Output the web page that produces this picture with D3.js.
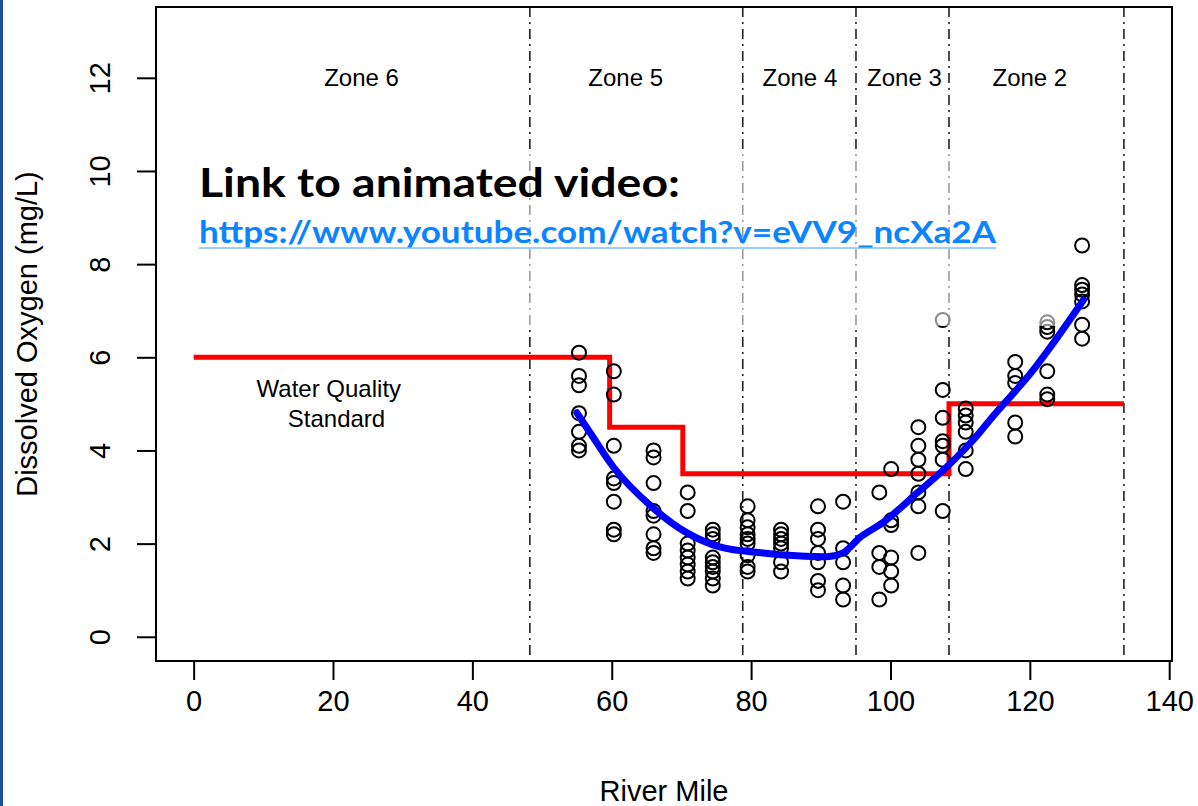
<!DOCTYPE html>
<html>
<head>
<meta charset="utf-8">
<script src="https://cdn.jsdelivr.net/npm/d3@7/dist/d3.min.js"></script>
<style>
  html, body { margin: 0; padding: 0; background: #ffffff; }
  svg { display: block; }
</style>
</head>
<body>
<svg id="chart" width="1198" height="806" font-family="'Liberation Sans', Arial, sans-serif"></svg>
<script>
// Sampling stations (river mile) and dissolved oxygen readings at each one
const stationMiles = [55.3, 60.3, 66.0, 70.9, 74.5, 79.5, 84.3, 89.6, 93.2, 98.4, 100.1, 104.0, 107.5, 110.8, 117.9, 122.5, 127.5];
const stationDO = [
  [6.1, 5.6, 5.4, 4.8, 4.4, 4.1, 4.0],
  [5.7, 5.2, 4.1, 3.4, 3.3, 2.9, 2.3, 2.2],
  [4.0, 3.85, 3.3, 2.7, 2.6, 2.2, 1.9, 1.8],
  [3.1, 2.7, 2.0, 1.85, 1.7, 1.55, 1.4, 1.25],
  [2.3, 2.2, 2.1, 1.7, 1.6, 1.5, 1.4, 1.25, 1.1],
  [2.8, 2.5, 2.35, 2.2, 2.1, 2.0, 1.75, 1.5, 1.4],
  [2.3, 2.2, 2.1, 2.0, 1.9, 1.6, 1.4],
  [2.8, 2.3, 2.1, 1.8, 1.6, 1.2, 1.0],
  [2.9, 1.9, 1.6, 1.1, 0.8],
  [3.1, 1.8, 1.5, 0.8],
  [3.6, 2.5, 2.4, 1.7, 1.4, 1.1],
  [4.5, 4.1, 3.8, 3.5, 3.1, 2.8, 1.8],
  [6.8, 5.3, 4.7, 4.2, 4.1, 3.8, 2.7],
  [4.9, 4.75, 4.6, 4.4, 4.0, 3.6],
  [5.9, 5.6, 5.45, 4.6, 4.3],
  [6.75, 6.65, 6.55, 5.7, 5.2, 5.1],
  [8.4, 7.55, 7.45, 7.35, 7.2, 6.7, 6.4]
];

// Smoothed trend of dissolved oxygen along the river
const fitMiles = [55.0, 56.9, 60.2, 65.9, 70.8, 75.5, 81.7, 86.6, 90.9, 93.2, 95.6, 98.9, 104.0, 108.1, 111.9, 114.3, 120.5, 127.7];
const fitDO    = [4.81, 4.38, 3.65, 2.77, 2.23, 1.93, 1.80, 1.74, 1.72, 1.80, 2.13, 2.45, 3.11, 3.65, 4.23, 4.66, 5.73, 7.23];

// Water quality standard: level applies from each break to the next
const standardBreaks = [0, 59.7, 70.2, 108.4, 133.5];
const standardLevels = [6, 4.5, 3.5, 5, 5];

// Management zones
const zoneBoundaries = [48.25, 78.8, 95.05, 108.4, 133.5];
const zoneNames   = ["Zone 6", "Zone 5", "Zone 4", "Zone 3", "Zone 2"];
const zoneCenters = [24.1, 62, 87, 102, 120];

// Axis ticks
const xTicks = [0, 20, 40, 60, 80, 100, 120, 140];
const yTicks = [0, 2, 4, 6, 8, 10, 12];

const svg = d3.select("#chart");
const box = { left: 156, top: 7, right: 1172, bottom: 661 };

const x = d3.scaleLinear().domain([-5.4, 140.4]).range([box.left, box.right]);
const y = d3.scaleLinear().domain([-0.52, 13.52]).range([box.bottom, box.top]);

// page frame accent on the left edge
svg.append("rect").attr("x", 0).attr("y", 0).attr("width", 3).attr("height", 806).attr("fill", "#1f4f9a");

// zone divider lines (dot-dash)
svg.append("g").selectAll("line").data(zoneBoundaries).join("line")
  .attr("x1", d => x(d)).attr("x2", d => x(d))
  .attr("y1", box.top).attr("y2", box.bottom)
  .attr("stroke", "#222").attr("stroke-width", 1.6)
  .attr("stroke-dasharray", "10,5,2,5");

// zone labels
svg.append("g").selectAll("text").data(zoneNames).join("text")
  .attr("x", (d, i) => x(zoneCenters[i]))
  .attr("y", y(12))
  .attr("dy", "0.35em")
  .attr("text-anchor", "middle")
  .attr("font-size", 24)
  .attr("fill", "#000")
  .text(d => d);

// water quality standard step line
const stdLine = d3.line()
  .x((d, i) => x(standardBreaks[i]))
  .y(d => y(d))
  .curve(d3.curveStepAfter);
svg.append("path")
  .datum(standardLevels)
  .attr("d", stdLine)
  .attr("fill", "none")
  .attr("stroke", "#ff0000")
  .attr("stroke-width", 5);

svg.append("text")
  .attr("x", x(19.4)).attr("y", y(5.32)).attr("dy", "0.35em")
  .attr("text-anchor", "middle").attr("font-size", 24)
  .text("Water Quality");
svg.append("text")
  .attr("x", x(20.5)).attr("y", y(4.68)).attr("dy", "0.35em")
  .attr("text-anchor", "middle").attr("font-size", 24)
  .text("Standard");

// observed samples
const samples = stationMiles.flatMap((m, i) => stationDO[i].map(v => ({ mile: m, value: v })));
svg.append("g").selectAll("circle").data(samples).join("circle")
  .attr("cx", d => x(d.mile))
  .attr("cy", d => y(d.value))
  .attr("r", 7)
  .attr("fill", "none")
  .attr("stroke", "#000")
  .attr("stroke-width", 2);

// trend line
const fitLine = d3.line()
  .x((d, i) => x(fitMiles[i]))
  .y(d => y(d))
  .curve(d3.curveMonotoneX);
svg.append("path")
  .datum(fitDO)
  .attr("d", fitLine)
  .attr("fill", "none")
  .attr("stroke", "#0000ff")
  .attr("stroke-width", 7)
  .attr("stroke-linecap", "round");

// axes
const xAxis = d3.axisBottom(x).tickValues(xTicks).tickSize(19).tickSizeOuter(0).tickPadding(10);
const gx = svg.append("g").attr("transform", `translate(0,${box.bottom})`).call(xAxis);
gx.attr("font-family", null).attr("font-size", null);
gx.select(".domain").remove();
gx.selectAll(".tick line").attr("stroke", "#000").attr("stroke-width", 2);
gx.selectAll(".tick text").attr("font-size", 29).attr("fill", "#000");

const yAxis = d3.axisLeft(y).tickValues(yTicks).tickSize(19).tickSizeOuter(0);
const gy = svg.append("g").attr("transform", `translate(${box.left},0)`).call(yAxis);
gy.attr("font-family", null).attr("font-size", null);
gy.select(".domain").remove();
gy.selectAll(".tick line").attr("stroke", "#000").attr("stroke-width", 2);
gy.selectAll(".tick text")
  .attr("font-size", 29).attr("fill", "#000")
  .attr("x", null).attr("dy", null)
  .attr("text-anchor", "middle")
  .attr("dominant-baseline", "central")
  .attr("transform", "translate(-56,0) rotate(-90)");

// plot frame
svg.append("rect")
  .attr("x", box.left).attr("y", box.top)
  .attr("width", box.right - box.left).attr("height", box.bottom - box.top)
  .attr("fill", "none").attr("stroke", "#000").attr("stroke-width", 2);

// axis titles
svg.append("text")
  .attr("x", (box.left + box.right) / 2).attr("y", 801)
  .attr("text-anchor", "middle").attr("font-size", 29)
  .text("River Mile");
svg.append("text")
  .attr("transform", `translate(37,${(box.top + box.bottom) / 2}) rotate(-90)`)
  .attr("text-anchor", "middle").attr("font-size", 29)
  .text("Dissolved Oxygen (mg/L)");

// link callout on a translucent panel
svg.append("rect")
  .attr("x", 186).attr("y", 150).attr("width", 872).attr("height", 176)
  .attr("fill", "#ffffff").attr("fill-opacity", 0.55);

svg.append("text")
  .attr("x", 199).attr("y", 197)
  .attr("font-family", "Lato, 'Open Sans', sans-serif")
  .attr("font-weight", "bold").attr("font-size", 40)
  .attr("fill", "#000")
  .attr("textLength", 481).attr("lengthAdjust", "spacingAndGlyphs")
  .text("Link to animated video:");

svg.append("text")
  .attr("x", 199).attr("y", 243)
  .attr("font-family", "Lato, 'Open Sans', sans-serif")
  .attr("font-weight", "bold").attr("font-size", 31)
  .attr("fill", "#0a84ff")
  .attr("textLength", 797).attr("lengthAdjust", "spacingAndGlyphs")
  .text("https://www.youtube.com/watch?v=eVV9_ncXa2A");
svg.append("line")
  .attr("x1", 199).attr("x2", 996).attr("y1", 248).attr("y2", 248)
  .attr("stroke", "#7fbdff").attr("stroke-width", 1.5);
</script>
</body>
</html>
